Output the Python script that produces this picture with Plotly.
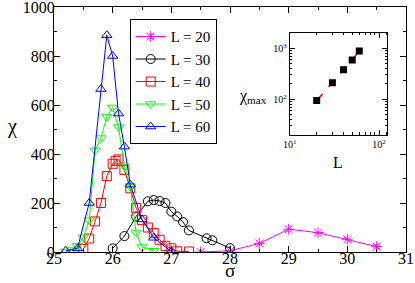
import plotly.graph_objects as go

# ---- data ----
L20_sigma = [27.5, 28.0, 28.5, 29.0, 29.5, 30.0, 30.5]
L20_chi = [0, 5, 35, 93, 79, 52, 22]

L30_sigma = [26.0, 26.2, 26.4, 26.6, 26.7, 26.8, 26.9, 27.0, 27.1, 27.2, 27.3, 27.6, 27.7, 28.0]
L30_chi = [15, 65, 145, 207, 212, 208, 200, 165, 145, 122, 88, 56, 48, 16]

L40_sigma = [25.5, 25.6, 25.7, 25.8, 25.9, 26.0, 26.05, 26.1, 26.2, 26.3, 26.4, 26.5, 26.6, 26.7, 26.8, 26.9, 27.0, 27.1, 27.3]
L40_chi = [12, 55, 125, 200, 310, 360, 372, 378, 335, 260, 180, 130, 100, 78, 50, 25, 15, 3, 2]

L50_sigma = [25.2, 25.3, 25.4, 25.5, 25.6, 25.7, 25.8, 25.9, 26.0, 26.1, 26.2, 26.3, 26.4, 26.5, 26.7]
L50_chi = [2, 8, 25, 60, 130, 415, 465, 553, 590, 510, 350, 265, 80, 20, 5]

L60_sigma = [25.2, 25.4, 25.6, 25.8, 25.9, 26.0, 26.1, 26.2, 26.3, 26.5, 26.7, 27.0]
L60_chi = [5, 15, 200, 665, 885, 800, 565, 430, 275, 133, 58, 2]

inset_L = [20, 30, 40, 50, 60]
inset_chimax = [95, 212, 378, 590, 885]

series = [
    ("L = 20", L20_sigma, L20_chi, "#ff00ff", "asterisk-open"),
    ("L = 30", L30_sigma, L30_chi, "#000000", "circle-open"),
    ("L = 40", L40_sigma, L40_chi, "#ff0000", "square-open"),
    ("L = 50", L50_sigma, L50_chi, "#00ff00", "triangle-down-open"),
    ("L = 60", L60_sigma, L60_chi, "#0000ff", "triangle-up-open"),
]

FONT = "Liberation Serif, Times New Roman, serif"
fig = go.Figure()
for name, xs, ys, col, sym in series:
    fig.add_trace(go.Scatter(
        x=xs, y=ys, name=name, mode="lines+markers",
        line=dict(color=col, width=1),
        marker=dict(symbol=sym, size=9, color=col, line=dict(color=col, width=1)),
        xaxis="x", yaxis="y"))

fig.add_trace(go.Scatter(
    x=inset_L, y=inset_chimax, mode="lines+markers", showlegend=False,
    line=dict(color="#ff0000", width=1.5, dash="dash"),
    marker=dict(symbol="square", size=7, color="black"),
    xaxis="x2", yaxis="y2"))

axis_common = dict(showline=True, linecolor="black", linewidth=1, mirror="allticks",
                   ticks="inside", tickcolor="black", showgrid=False, zeroline=False,
                   automargin=False, ticklabeloverflow="allow")

fig.update_layout(
    width=415, height=283,
    margin=dict(l=54, r=9, t=7, b=31),
    plot_bgcolor="white", paper_bgcolor="white",
    font=dict(family=FONT, color="black", size=15),
    xaxis=dict(range=[25, 31], dtick=1, tick0=25, ticklen=6, ticklabelstandoff=-8,
               minor=dict(ticks="inside", dtick=0.5, ticklen=3, tickcolor="black"),
               tickfont=dict(size=16), **axis_common),
    yaxis=dict(range=[0, 1000], dtick=200, ticklen=6, ticklabelstandoff=-5,
               minor=dict(ticks="inside", dtick=100, ticklen=3, tickcolor="black"),
               tickfont=dict(size=16), **axis_common),
    xaxis2=dict(type="log", range=[1, 2.093], domain=[0.670, 0.947], anchor="y2",
                tickvals=[10, 100], ticktext=["10<sup>1</sup>", "10<sup>2</sup>"],
                ticklen=5, tickfont=dict(size=10),
                minor=dict(ticks="inside", ticklen=2.5, tickcolor="black",
                           tickvals=[20, 30, 40, 50, 60, 70, 80, 90, 120]),
                **axis_common),
    yaxis2=dict(type="log", range=[1.301, 3.301], domain=[0.478, 0.894], anchor="x2",
                tickvals=[100, 1000], ticktext=["10<sup>2</sup>", "10<sup>3</sup>"],
                ticklen=5, tickfont=dict(size=10),
                minor=dict(ticks="inside", ticklen=2.5, tickcolor="black",
                           tickvals=[30, 40, 50, 60, 70, 80, 90, 200, 300, 400, 500, 600, 700, 800, 900, 2000]),
                **axis_common),
    legend=dict(x=0.215, y=0.95, xanchor="left", yanchor="top",
                bordercolor="black", borderwidth=1, bgcolor="white",
                font=dict(family=FONT, size=15), tracegroupgap=0, itemwidth=30),
    annotations=[
        dict(text="χ", x=-0.118, y=0.514, xref="paper", yref="paper",
             xanchor="center", yanchor="middle", showarrow=False, font=dict(size=20)),
        dict(text="σ", x=0.5, y=-0.074, xref="paper", yref="paper",
             xanchor="center", yanchor="middle", showarrow=False, font=dict(size=19)),
        dict(text="χ<sub>max</sub>", x=0.565, y=0.633, xref="paper", yref="paper",
             xanchor="center", yanchor="middle", showarrow=False, font=dict(size=16)),
        dict(text="L", x=0.807, y=0.367, xref="paper", yref="paper",
             xanchor="center", yanchor="middle", showarrow=False, font=dict(size=16)),
    ],
    showlegend=True,
)

fig.write_html("out.html", config={"displayModeBar": False},
               post_script="document.body.style.margin='0';document.body.style.overflow='hidden';")
